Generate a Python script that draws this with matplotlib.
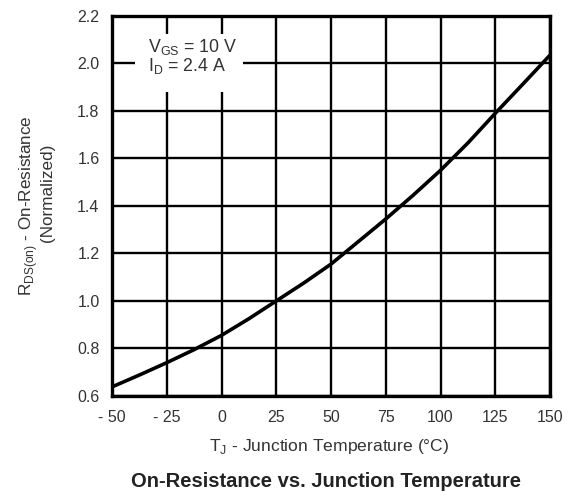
import matplotlib.pyplot as plt
from matplotlib.patches import Rectangle

# junction temperature (C) vs normalized on-resistance
temp = [-50, -37.5, -25, -12.5, 0, 12.5, 25, 37.5, 50, 62.5, 75, 87.5, 100, 112.5, 125, 137.5, 150]
rds = [0.638, 0.688, 0.740, 0.795, 0.855, 0.925, 1.000, 1.075, 1.155, 1.250, 1.345, 1.445, 1.550, 1.665, 1.790, 1.912, 2.035]

x_ticks = [-50, -25, 0, 25, 50, 75, 100, 125, 150]
x_labels = ['- 50', '- 25', '0', '25', '50', '75', '100', '125', '150']
y_ticks = [0.6, 0.8, 1.0, 1.2, 1.4, 1.6, 1.8, 2.0, 2.2]
y_labels = ['0.6', '0.8', '1.0', '1.2', '1.4', '1.6', '1.8', '2.0', '2.2']

plt.rcParams['font.family'] = ['Liberation Sans', 'DejaVu Sans']
plt.rcParams['mathtext.fontset'] = 'custom'
plt.rcParams['mathtext.rm'] = 'Liberation Sans'

W, H = 578, 498
fig = plt.figure(figsize=(W / 100, H / 100), dpi=100)
ax = fig.add_axes([0.1938, 0.205, 0.7578, 0.763])

ax.set_xlim(-50, 150)
ax.set_ylim(0.6, 2.2)
ax.set_xticks(x_ticks)
ax.set_xticklabels(x_labels)
ax.set_yticks(y_ticks)
ax.set_yticklabels(y_labels)
ax.tick_params(length=0, labelsize=11.5, colors='#333333')
ax.tick_params(axis='x', pad=10)
ax.tick_params(axis='y', pad=9)

ax.grid(True, color='black', linewidth=1.7)
ax.set_axisbelow(True)
for s in ax.spines.values():
    s.set_linewidth(2.4)

# white patch behind the test condition note
ax.add_patch(Rectangle((-39.5, 1.878), 49.3, 0.246, facecolor='white',
                       edgecolor='none', zorder=2))
ax.text(-33.6, 2.069, r'V$_{\mathregular{GS}}$ = 10 V', fontsize=12.8,
        color='#333333', va='center', zorder=3)
ax.text(-33.6, 1.99, r'I$_{\mathregular{D}}$ = 2.4 A', fontsize=12.8,
        color='#333333', va='center', zorder=3)

ax.plot(temp, rds, color='black', linewidth=2.6, zorder=4,
        solid_capstyle='butt', solid_joinstyle='round')

fig.text(329 / W, 1 - 447 / H, r'T$_{\mathregular{J}}$ - Junction Temperature (°C)',
         fontsize=12.6, color='#333333', ha='center', va='center')
fig.text(29 / W, 1 - 206 / H, r'R$_{\mathregular{DS(on)}}$ - On-Resistance',
         fontsize=12.3, color='#333333', ha='center', va='center', rotation=90)
fig.text(47 / W, 1 - 193 / H, '(Normalized)',
         fontsize=12.3, color='#333333', ha='center', va='center', rotation=90)

fig.text(326 / W, 1 - 481 / H, 'On-Resistance vs. Junction Temperature',
         fontsize=14.5, fontweight='bold', ha='center', va='center', color='#222222')

fig.savefig('out.png', dpi=100)
